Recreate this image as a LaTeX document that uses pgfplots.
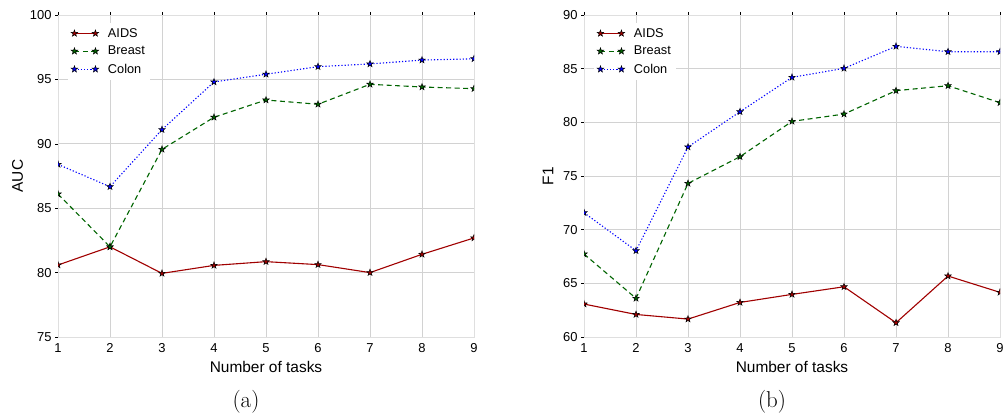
\documentclass[border=0pt]{standalone}
\usepackage{fontspec}
\newfontfamily\arial{Liberation Sans}
\usepackage{pgfplots}
\pgfplotsset{compat=1.18}
\definecolor{aids}{RGB}{160,0,0}
\definecolor{breast}{RGB}{0,100,0}
\definecolor{colon}{RGB}{0,0,255}

\pgfdeclareplotmark{fstar}{%
  \pgfpathmoveto{\pgfpointpolar{90}{\pgfplotmarksize}}%
  \pgfpathlineto{\pgfpointpolar{126}{0.4\pgfplotmarksize}}%
  \pgfpathlineto{\pgfpointpolar{162}{\pgfplotmarksize}}%
  \pgfpathlineto{\pgfpointpolar{198}{0.4\pgfplotmarksize}}%
  \pgfpathlineto{\pgfpointpolar{234}{\pgfplotmarksize}}%
  \pgfpathlineto{\pgfpointpolar{270}{0.4\pgfplotmarksize}}%
  \pgfpathlineto{\pgfpointpolar{306}{\pgfplotmarksize}}%
  \pgfpathlineto{\pgfpointpolar{342}{0.4\pgfplotmarksize}}%
  \pgfpathlineto{\pgfpointpolar{18}{\pgfplotmarksize}}%
  \pgfpathlineto{\pgfpointpolar{54}{0.4\pgfplotmarksize}}%
  \pgfpathclose
  \pgfusepathqfillstroke}

\pgfplotstableread{
x aids breast colon
1 80.59 86.10 88.40
2 82.00 82.00 86.67
3 79.94 89.57 91.10
4 80.56 92.06 94.80
5 80.85 93.40 95.40
6 80.62 93.07 95.99
7 80.00 94.62 96.20
8 81.42 94.41 96.50
9 82.69 94.28 96.60
}\tableauc

\pgfplotstableread{
x aids breast colon
1 63.07 67.73 71.58
2 62.10 63.60 68.04
3 61.67 74.31 77.70
4 63.22 76.80 80.99
5 63.97 80.09 84.19
6 64.68 80.77 85.03
7 61.33 82.95 87.08
8 65.68 83.41 86.58
9 64.16 81.83 86.58
}\tablefone

\pgfplotsset{
  myaxis/.style={
    scale only axis, width=416bp, height=322bp,
    xmin=1, xmax=9, xtick={1,...,9},
    grid=major, grid style={gray!35, line width=0.8bp},
    axis line style={gray!25, line width=0.8bp},
    tick style={black, line width=0.6bp},
    major tick length=3bp,
    tick align=outside,
    xtick pos=upper, xticklabel pos=lower,
    ytick pos=left, yticklabel pos=left,
    ticklabel style={font=\arial\fontsize{13}{15}\selectfont},
    /pgf/number format/assume math mode=true,
    label style={font=\arial\fontsize{15.5}{18}\selectfont},
    xlabel={Number of tasks},
    xlabel style={at={(rel axis cs:0.5,0)}, anchor=center, yshift=-29.5bp},
    clip marker paths=true,
    legend cell align=left,
    legend style={at={(rel axis cs:0,1)}, anchor=north west, xshift=10bp, yshift=-8bp,
      draw=none, fill=white, font=\arial\fontsize{12.8}{14}\selectfont,
      row sep=3.5bp, inner sep=3bp},
    legend image code/.code={\draw[mark repeat=1,##1] plot coordinates {(0bp,0bp) (21bp,0bp)}; \path (31bp,0bp);},
    every axis plot/.append style={line width=1.1bp, mark=fstar, mark size=3.4bp},
  }
}

\begin{document}
\begin{tikzpicture}[x=1bp,y=1bp]
\useasboundingbox (0,0) rectangle (1003,415);
\begin{axis}[myaxis, at={(58bp,78bp)}, anchor=south west,
  ymin=75, ymax=100, ytick={75,80,...,100},
  ylabel={AUC}, ylabel style={at={(rel axis cs:0,0.5)}, anchor=center, yshift=40.5bp}]
\addplot[aids, solid, mark options={solid, fill=aids, draw=black, line width=0.5bp}] table[x=x,y=aids] {\tableauc};
\addlegendentry{AIDS}
\addplot[breast, dashed, dash pattern=on 5bp off 3.5bp, mark options={solid, fill=breast, draw=black, line width=0.5bp}] table[x=x,y=breast] {\tableauc};
\addlegendentry{Breast}
\addplot[colon, dotted, dash pattern=on 1.2bp off 2bp, mark options={solid, fill=colon, draw=black, line width=0.5bp}] table[x=x,y=colon] {\tableauc};
\addlegendentry{Colon}
\end{axis}
\begin{axis}[myaxis, at={(584bp,78bp)}, anchor=south west,
  ymin=60, ymax=90, ytick={60,65,...,90},
  ylabel={F1}, ylabel style={at={(rel axis cs:0,0.5)}, anchor=center, yshift=36bp}]
\addplot[aids, solid, mark options={solid, fill=aids, draw=black, line width=0.5bp}] table[x=x,y=aids] {\tablefone};
\addlegendentry{AIDS}
\addplot[breast, dashed, dash pattern=on 5bp off 3.5bp, mark options={solid, fill=breast, draw=black, line width=0.5bp}] table[x=x,y=breast] {\tablefone};
\addlegendentry{Breast}
\addplot[colon, dotted, dash pattern=on 1.2bp off 2bp, mark options={solid, fill=colon, draw=black, line width=0.5bp}] table[x=x,y=colon] {\tablefone};
\addlegendentry{Colon}
\end{axis}
\node[font=\fontsize{23}{26}\selectfont] at (246,13) {(a)};
\node[font=\fontsize{23}{26}\selectfont] at (772,13) {(b)};
\end{tikzpicture}
\end{document}
